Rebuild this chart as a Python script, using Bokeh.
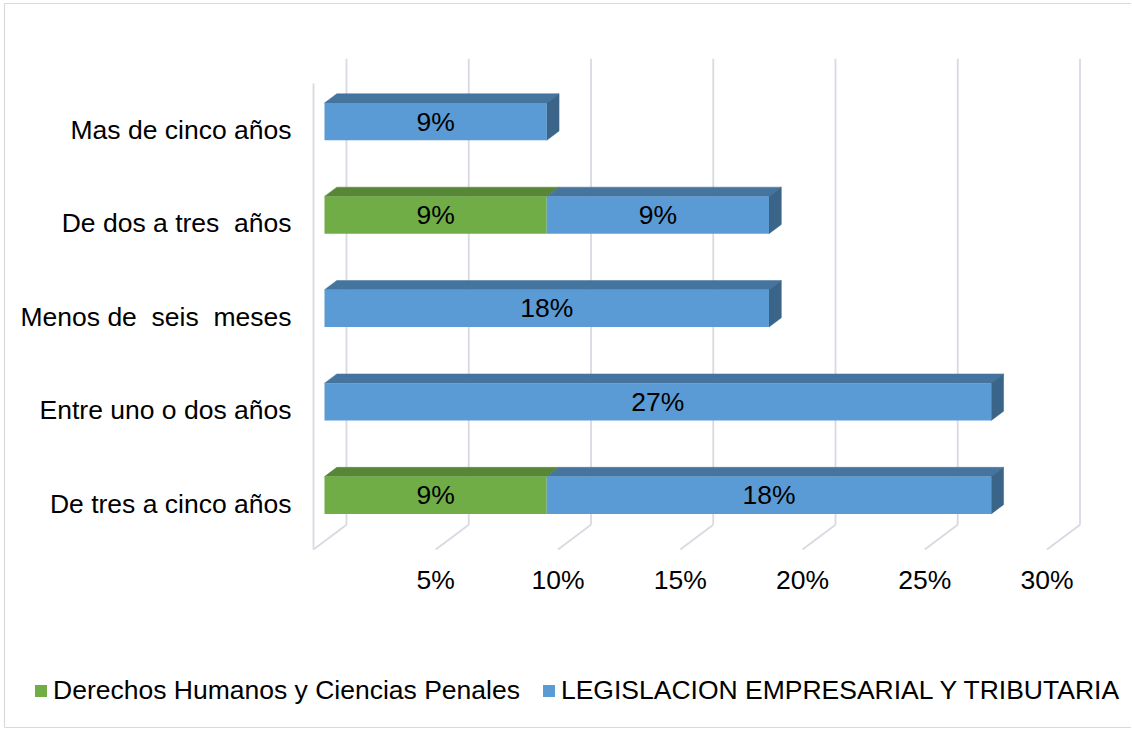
from bokeh.plotting import figure
from bokeh.models import (Range1d, FixedTicker, PrintfTickFormatter, Legend,
                          LegendItem, ColumnDataSource)
from bokeh.embed import file_html
from bokeh.resources import INLINE

# ---------------- data (bottom row first) ----------------
categories = ["De tres a cinco años", "Entre uno o dos años",
              "Menos de\u00a0 seis\u00a0 meses", "De dos a tres\u00a0 años", "Mas de cinco años"]
derechos = [9.09, 0.0, 0.0, 9.09, 0.0]
legislacion = [18.18, 27.27, 18.18, 9.09, 9.09]
series_names = ["Derechos Humanos y Ciencias Penales",
                "LEGISLACION EMPRESARIAL Y TRIBUTARIA"]
x_ticks = [5, 10, 15, 20, 25, 30]

# ---------------- style / layout ----------------
FONT = "Liberation Sans"
FS = "26.5px"
front_col = ["#70ad47", "#5b9bd5"]
top_col = ["#578636", "#45749f"]
side_col = ["#466d2b", "#3a6488"]
grid_col = "#d9d9e3"
border_col = "#d9d9d9"

PX_PCT = 24.45          # pixels per percent
PX_ROW = 93.4           # pixels per category row
DX = 33 / PX_PCT        # full depth, x (data units)
DY = 24.8 / PX_ROW      # full depth, y (data units)
F_FRONT, F_BACK = 0.333, 0.706
BAR_H = 37.3 / PX_ROW

W, H = 1131, 728
X0 = 313                # pixel x of 0 % (front plane)
ROW0 = 503              # pixel y of bottom row (front plane)


def py(pix):            # pixel row -> data y
    return (ROW0 - pix) / PX_ROW


def px(pix):            # pixel column -> data x
    return (pix - X0) / PX_PCT


floor_front = py(549)
floor_back = floor_front + DY
wall_top = py(58.3)

p = figure(width=W, height=H, x_range=Range1d(px(0), px(W)), y_range=Range1d(py(H), py(0)),
           output_backend="svg", toolbar_location=None,
           min_border_left=0, min_border_right=0, min_border_top=0, min_border_bottom=0)
p.outline_line_color = None
p.xgrid.visible = False
p.ygrid.visible = False

# chart-area border
p.segment(x0=[px(4), px(4), px(4)], y0=[py(3), py(3), py(727)],
          x1=[px(4), px(W + 5), px(W + 5)], y1=[py(727), py(3), py(727)],
          line_color=border_col, line_width=1.2)

# ---------------- walls / gridlines ----------------
gx = [0] + x_ticks
p.segment(x0=[v + DX for v in gx], y0=[floor_back] * len(gx),
          x1=[v + DX for v in gx], y1=[wall_top] * len(gx),
          line_color=grid_col, line_width=1.8)
p.segment(x0=[v + DX for v in gx], y0=[floor_back] * len(gx),
          x1=gx, y1=[floor_front] * len(gx),
          line_color=grid_col, line_width=1.8)
p.segment(x0=[0], y0=[floor_front], x1=[0], y1=[wall_top - DY],
          line_color=grid_col, line_width=1.8)

# ---------------- bars ----------------
fx, bx = F_FRONT * DX, F_BACK * DX
fy, by = F_FRONT * DY, F_BACK * DY
series = [derechos, legislacion]
front_src = [dict(y=[], left=[], right=[], lab=[], xc=[]) for _ in series]
tops = [dict(xs=[], ys=[]) for _ in series]
sides = [dict(xs=[], ys=[]) for _ in series]
for j in range(len(categories)):
    acc = 0.0
    last = None
    for s, vals in enumerate(series):
        v = vals[j]
        if v <= 0:
            continue
        l, r = acc, acc + v
        acc = r
        yc = j + fy
        front_src[s]["y"].append(yc)
        front_src[s]["left"].append(l + fx)
        front_src[s]["right"].append(r + fx)
        front_src[s]["lab"].append(f"{round(v):d}%")
        front_src[s]["xc"].append((l + r) / 2 + fx)
        yt_f = yc + BAR_H / 2
        yt_b = j + by + BAR_H / 2
        tops[s]["xs"].append([l + fx, r + fx, r + bx, l + bx])
        tops[s]["ys"].append([yt_f, yt_f, yt_b, yt_b])
        last = (s, r, j)
    if last:
        s, r, jj = last
        yc = jj + fy
        yb = jj + by
        sides[s]["xs"].append([r + fx, r + fx, r + bx, r + bx])
        sides[s]["ys"].append([yc - BAR_H / 2, yc + BAR_H / 2, yb + BAR_H / 2, yb - BAR_H / 2])

for s in range(len(series)):
    p.patches(xs="xs", ys="ys", source=ColumnDataSource(tops[s]),
              fill_color=top_col[s], line_color=top_col[s], line_width=0.5)
    p.patches(xs="xs", ys="ys", source=ColumnDataSource(sides[s]),
              fill_color=side_col[s], line_color=side_col[s], line_width=0.5)
fronts = []
for s in range(len(series)):
    src = ColumnDataSource(front_src[s])
    fronts.append(p.hbar(y="y", left="left", right="right", height=BAR_H, source=src,
                         fill_color=front_col[s], line_color=None))
    p.text(x="xc", y="y", text="lab", source=src, text_align="center",
           text_baseline="middle", text_font_size=FS, text_color="black",
           text_font={"value": FONT})

# ---------------- axes (drawn at fixed positions inside the frame) ----------------
xa = p.xaxis[0]
xa.ticker = FixedTicker(ticks=x_ticks)
xa.formatter = PrintfTickFormatter(format="%d%%")
xa.fixed_location = py(560)
ya = p.yaxis[0]
ya.ticker = FixedTicker(ticks=list(range(len(categories))))
ya.major_label_overrides = {i: c for i, c in enumerate(categories)}
ya.fixed_location = 0
for ax in (xa, ya):
    ax.axis_line_color = None
    ax.major_tick_line_color = None
    ax.minor_tick_line_color = None
    ax.major_tick_out = 0
    ax.major_tick_in = 0
    ax.major_label_text_font = FONT
    ax.major_label_text_font_size = FS
    ax.major_label_text_color = "black"
xa.major_label_standoff = 4
ya.major_label_standoff = 22

# ---------------- legend ----------------
legend = Legend(items=[LegendItem(label=series_names[i], renderers=[fronts[i]])
                       for i in range(len(series))],
                orientation="horizontal", location=(33, H - 706),
                padding=0, margin=0, spacing=21, label_standoff=5,
                glyph_width=15, glyph_height=15,
                border_line_alpha=0, background_fill_alpha=0,
                label_text_font=FONT, label_text_font_size=FS,
                label_text_color="black")
p.add_layout(legend)

open("out.html", "w").write(file_html(p, INLINE))
